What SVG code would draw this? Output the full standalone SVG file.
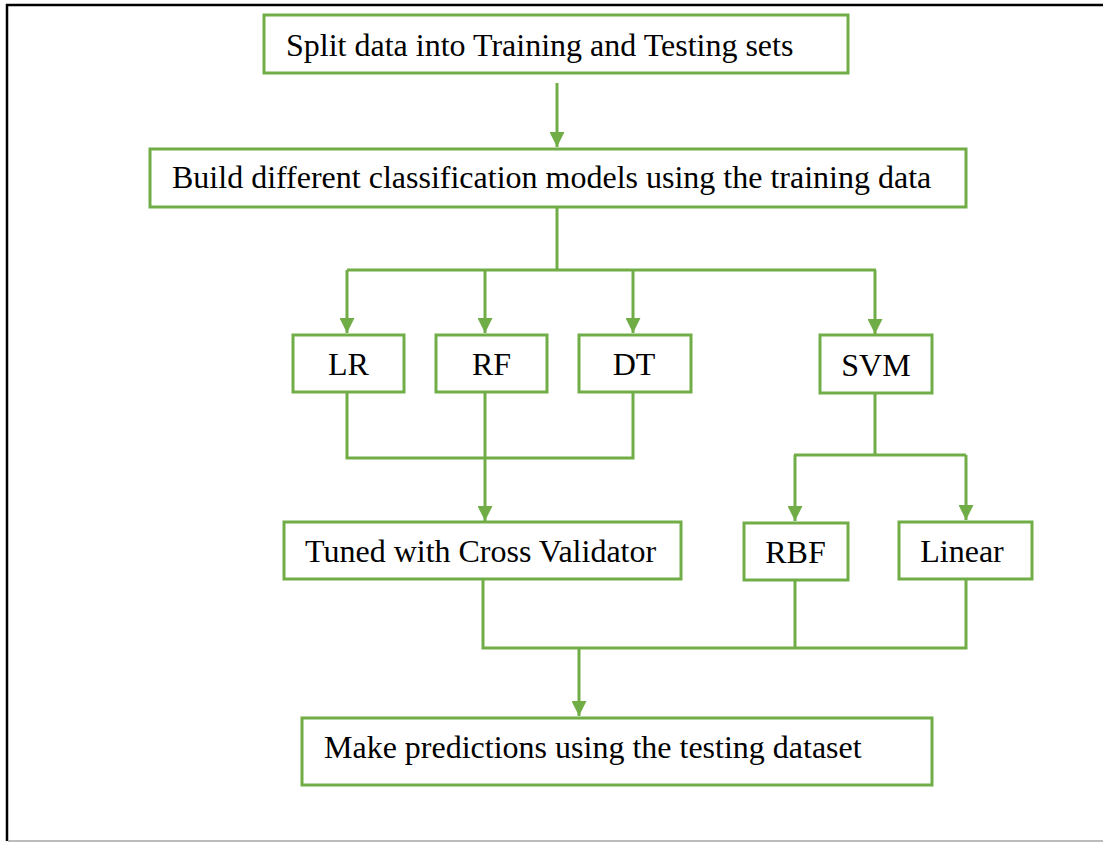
<svg xmlns="http://www.w3.org/2000/svg" width="1103" height="842" viewBox="0 0 1103 842">
  <style>
    .box { fill: #ffffff; stroke: #70AD47; stroke-width: 3; }
    .lbl { font-family: "Liberation Serif", "Times New Roman", serif; font-size: 32px; fill: #000000; }
    .mid { text-anchor: middle; }
    .wire { fill: none; stroke: #70AD47; stroke-width: 3; }
  </style>
  <defs>
    <marker id="arrow" viewBox="0 0 10 10" refX="10" refY="5" markerWidth="5" markerHeight="5" markerUnits="strokeWidth" orient="auto">
      <path d="M0,0 L10,5 L0,10 Z" fill="#70AD47"/>
    </marker>
  </defs>

  <rect width="1103" height="842" fill="#ffffff"/>

  <!-- page frame -->
  <g id="frame">
    <line x1="6" y1="5" x2="1103" y2="5" stroke="#000000" stroke-width="2.5"/>
    <line x1="7" y1="4" x2="7" y2="841" stroke="#000000" stroke-width="2.5"/>
    <line x1="8" y1="841" x2="1103" y2="841" stroke="#a6a6a6" stroke-width="1.5"/>
  </g>

  <!-- connectors -->
  <g id="connectors">
    <line class="wire" x1="557" y1="83" x2="557" y2="147" marker-end="url(#arrow)"/>
    <line class="wire" x1="557" y1="207" x2="557" y2="270"/>
    <line class="wire" x1="347" y1="270" x2="876" y2="270"/>
    <line class="wire" x1="347" y1="270" x2="347" y2="333" marker-end="url(#arrow)"/>
    <line class="wire" x1="485" y1="270" x2="485" y2="333" marker-end="url(#arrow)"/>
    <line class="wire" x1="633" y1="270" x2="633" y2="333" marker-end="url(#arrow)"/>
    <line class="wire" x1="875" y1="270" x2="875" y2="334" marker-end="url(#arrow)"/>

    <polyline class="wire" points="347,392 347,458 633,458 633,392"/>
    <line class="wire" x1="485" y1="392" x2="485" y2="521" marker-end="url(#arrow)"/>

    <line class="wire" x1="875" y1="392" x2="875" y2="455"/>
    <line class="wire" x1="794" y1="455" x2="966" y2="455"/>
    <line class="wire" x1="795" y1="455" x2="795" y2="521" marker-end="url(#arrow)"/>
    <line class="wire" x1="966" y1="455" x2="966" y2="520" marker-end="url(#arrow)"/>

    <polyline class="wire" points="483,579 483,648 966,648 966,579"/>
    <line class="wire" x1="795" y1="580" x2="795" y2="648"/>
    <line class="wire" x1="579" y1="648" x2="579" y2="716" marker-end="url(#arrow)"/>
  </g>

  <g id="split">
    <rect class="box" x="264" y="15" width="584" height="58"/>
    <text class="lbl" x="286" y="56">Split data into Training and Testing sets</text>
  </g>

  <g id="build">
    <rect class="box" x="150" y="149" width="816" height="58"/>
    <text class="lbl" x="172" y="188">Build different classification models using the training data</text>
  </g>

  <g id="lr">
    <rect class="box" x="293" y="335" width="111" height="57"/>
    <text class="lbl mid" x="348.5" y="375">LR</text>
  </g>

  <g id="rf">
    <rect class="box" x="436" y="335" width="111" height="57"/>
    <text class="lbl mid" x="491.5" y="375">RF</text>
  </g>

  <g id="dt">
    <rect class="box" x="579" y="335" width="112" height="57"/>
    <text class="lbl mid" x="634" y="375">DT</text>
  </g>

  <g id="svm">
    <rect class="box" x="820" y="335" width="112" height="58"/>
    <text class="lbl mid" x="876" y="376">SVM</text>
  </g>

  <g id="tuned">
    <rect class="box" x="284" y="522" width="397" height="57"/>
    <text class="lbl" x="305" y="562">Tuned with Cross Validator</text>
  </g>

  <g id="rbf">
    <rect class="box" x="744" y="523" width="104" height="57"/>
    <text class="lbl mid" x="795.5" y="563">RBF</text>
  </g>

  <g id="linear">
    <rect class="box" x="899" y="522" width="133" height="57"/>
    <text class="lbl mid" x="962" y="562">Linear</text>
  </g>

  <g id="predict">
    <rect class="box" x="302" y="718" width="630" height="67"/>
    <text class="lbl" x="324" y="758">Make predictions using the testing dataset</text>
  </g>
</svg>
